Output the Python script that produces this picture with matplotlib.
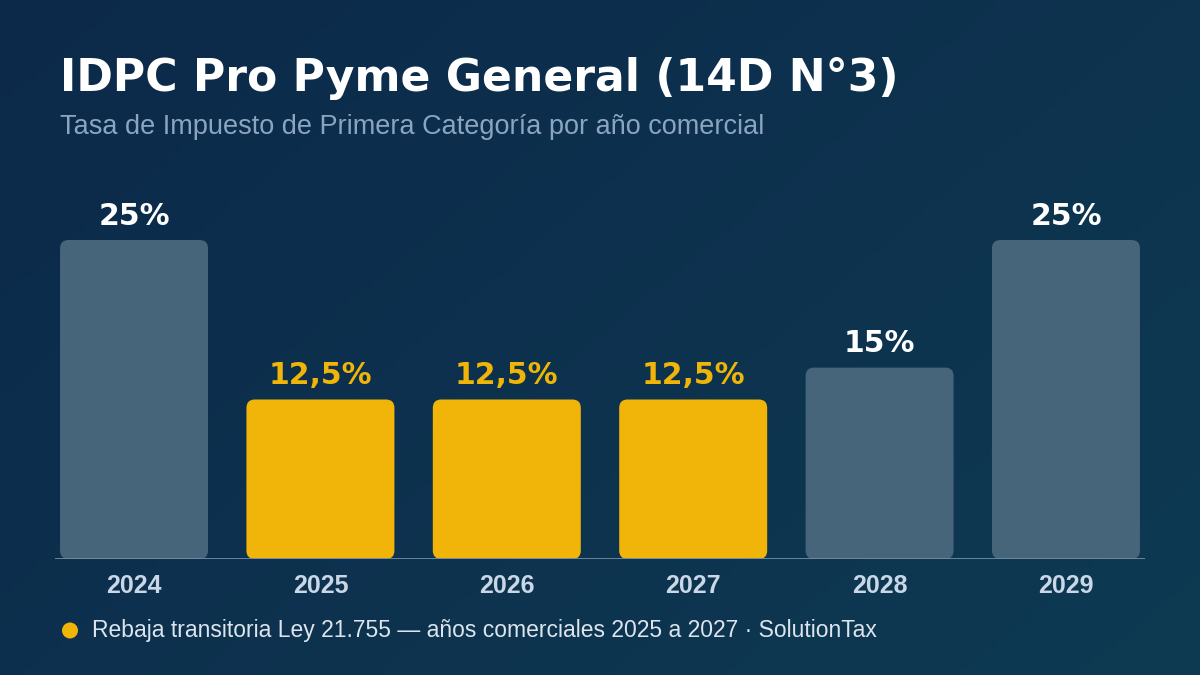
import numpy as np
import matplotlib.pyplot as plt
from matplotlib.patches import FancyBboxPatch, Circle

plt.rcParams['font.family'] = ['Liberation Sans', 'DejaVu Sans']

# datos
anios = ['2024', '2025', '2026', '2027', '2028', '2029']
tasas = [25, 12.5, 12.5, 12.5, 15, 25]
etiquetas = ['25%', '12,5%', '12,5%', '12,5%', '15%', '25%']
rebaja = [False, True, True, True, False, False]

col_gris = '#46647a'
col_amarillo = '#f0b508'

fig = plt.figure(figsize=(12, 6.75), dpi=100)

# fondo con degradado diagonal
bg = fig.add_axes([0, 0, 1, 1], zorder=-10)
gx, gy = np.meshgrid(np.linspace(0, 1, 200), np.linspace(0, 1, 120))
t = (gx * 0.6 + gy * 0.4)
c1 = np.array([12, 41, 74]) / 255
c2 = np.array([14, 58, 82]) / 255
img = c1[None, None, :] * (1 - t[..., None]) + c2[None, None, :] * t[..., None]
bg.imshow(img, aspect='auto', extent=[0, 1, 0, 1], origin='upper')
bg.axis('off')

# ejes del grafico (en pixeles: x 55..1145, base y=559, tope y=200)
W, H = 1200, 675
ax = fig.add_axes([55 / W, (H - 559) / H, 1090 / W, 359 / H])
ax.set_facecolor('none')
ax.set_xlim(-0.424, 5.424)
ax.set_ylim(0, 359 / 12.76)

x = np.arange(len(anios))
ancho = 0.794
bars = ax.bar(x, tasas, width=ancho, color='none')

# barras con esquinas redondeadas
for b, r in zip(bars, rebaja):
    b.set_visible(False)
    p = FancyBboxPatch((b.get_x(), b.get_y()), b.get_width(), b.get_height(),
                       boxstyle='round,pad=0,rounding_size=0.045',
                       mutation_aspect=14.6, linewidth=0,
                       facecolor=col_amarillo if r else col_gris)
    ax.add_patch(p)

for xi, v, lab, r in zip(x, tasas, etiquetas, rebaja):
    ax.annotate(lab, (xi, v), xytext=(0, 11), textcoords='offset points',
                ha='center', va='baseline', fontsize=21.5, fontweight='bold',
                family='DejaVu Sans', color=col_amarillo if r else 'white')

ax.axhline(0, color='#6f8ca5', linewidth=1.3)
ax.set_xticks(x)
ax.set_xticklabels(anios, fontsize=18, fontweight='bold', color='#c9d7e6')
ax.tick_params(axis='x', length=0, pad=10.5)
ax.set_yticks([])
for s in ax.spines.values():
    s.set_visible(False)

# titulos
fig.text(60 / W, 1 - 91 / H, 'IDPC Pro Pyme General (14D N°3)', fontsize=31.8,
         fontweight='bold', family='DejaVu Sans', color='white', va='baseline')
fig.text(60 / W, 1 - 134 / H, 'Tasa de Impuesto de Primera Categoría por año comercial',
         fontsize=19.5, color='#8aa5c0', va='baseline')

# nota al pie
fig.patches.append(Circle((70 / 100, (H - 630.5) / 100), 0.08,
                          transform=fig.dpi_scale_trans,
                          facecolor=col_amarillo, edgecolor='none'))
fig.text(92 / W, 1 - 637 / H,
         'Rebaja transitoria Ley 21.755 — años comerciales 2025 a 2027 · SolutionTax',
         fontsize=16.5, color='#dce5ee', va='baseline')

fig.savefig('out.png', dpi=100)
